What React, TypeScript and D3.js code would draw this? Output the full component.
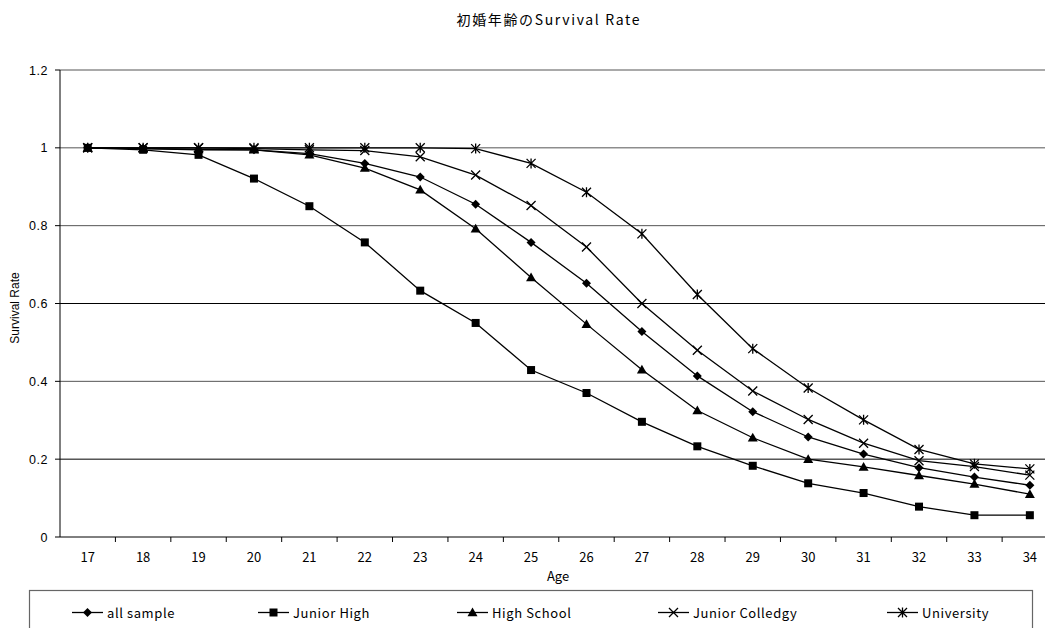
import React from "react";
import * as d3 from "d3";

const ages = [17, 18, 19, 20, 21, 22, 23, 24, 25, 26, 27, 28, 29, 30, 31, 32, 33, 34];
const allSample = [1, 0.998, 0.995, 0.995, 0.985, 0.96, 0.925, 0.855, 0.757, 0.652, 0.528, 0.414, 0.322, 0.257, 0.213, 0.178, 0.154, 0.133];
const juniorHigh = [1, 0.995, 0.982, 0.921, 0.85, 0.757, 0.633, 0.55, 0.429, 0.37, 0.296, 0.233, 0.183, 0.138, 0.113, 0.078, 0.056, 0.056];
const highSchool = [1, 0.998, 0.996, 0.995, 0.982, 0.948, 0.892, 0.792, 0.667, 0.547, 0.43, 0.325, 0.255, 0.2, 0.18, 0.158, 0.136, 0.11];
const juniorCollege = [1, 1, 1, 0.998, 0.995, 0.993, 0.977, 0.93, 0.852, 0.745, 0.6, 0.48, 0.375, 0.302, 0.241, 0.196, 0.181, 0.159];
const university = [1, 1, 1, 1, 1, 1, 1, 0.998, 0.96, 0.886, 0.779, 0.623, 0.484, 0.383, 0.301, 0.225, 0.188, 0.175];
const yTicks = [0, 0.2, 0.4, 0.6, 0.8, 1, 1.2];

const seriesNames = ["all sample", "Junior High", "High School", "Junior Colledgy", "University"];
const seriesData = [allSample, juniorHigh, highSchool, juniorCollege, university];
const markers = ["diamond", "square", "triangle", "x", "asterisk"];

const W = 1045, H = 628;
const left = 60, top = 70, bottom = 537;
const band = 55.42;
const right = left + band * ages.length;

function Marker({ type, x, y }: { type: string; x: number; y: number }) {
  if (type === "diamond") {
    const s = 4.5;
    return <path d={`M${x},${y - s}L${x + s},${y}L${x},${y + s}L${x - s},${y}Z`} fill="#000" />;
  }
  if (type === "square") {
    const s = 4;
    return <rect x={x - s} y={y - s} width={2 * s} height={2 * s} fill="#000" />;
  }
  if (type === "triangle") {
    const s = 5;
    return <path d={`M${x},${y - s}L${x + s},${y + s * 0.75}L${x - s},${y + s * 0.75}Z`} fill="#000" />;
  }
  if (type === "x") {
    const s = 4.5;
    return <path d={`M${x - s},${y - s}L${x + s},${y + s}M${x + s},${y - s}L${x - s},${y + s}`} stroke="#000" strokeWidth={1.3} />;
  }
  const s = 4.5;
  return (
    <path
      d={`M${x - s},${y - s}L${x + s},${y + s}M${x + s},${y - s}L${x - s},${y + s}M${x},${y - s - 0.5}L${x},${y + s + 0.5}`}
      stroke="#000"
      strokeWidth={1.3}
    />
  );
}

export default function App() {
  const x = d3.scaleBand<number>().domain(ages).range([left, right]);
  const y = d3.scaleLinear().domain([0, 1.2]).range([bottom, top]);
  const cx = (a: number) => (x(a) as number) + x.bandwidth() / 2;
  const line = d3
    .line<number>()
    .x((_, i) => cx(ages[i]))
    .y((d) => y(d));
  const legendX = [72, 258, 457, 658, 887];
  const legendY = 612.5;
  const tickFont = "'Noto Sans CJK JP', 'Liberation Sans', sans-serif";
  const numFont = "'Liberation Sans', Arial, sans-serif";

  return (
    <svg width={W} height={H} style={{ position: "absolute", left: 0, top: 0, background: "#fff" }}>
      <rect x={0} y={0} width={W} height={H} fill="#fff" />
      <text x={548} y={25} textAnchor="middle" fontSize={14} fontFamily={tickFont} fill="#000" textLength={183} lengthAdjust="spacing">
        初婚年齢のSurvival Rate
      </text>
      {yTicks.map((t) => (
        <g key={t}>
          {t > 0 && <line x1={left} x2={right} y1={y(t)} y2={y(t)} stroke={t === 0.6 || t === 0.2 ? "#000" : "#555"} strokeWidth={1} />}
          <line x1={left - 5} x2={left} y1={y(t)} y2={y(t)} stroke="#000" />
          <text x={48} y={y(t) + 4.5} textAnchor="end" fontSize={12.5} fontFamily={numFont} fill="#000" letterSpacing={0.5}>
            {t}
          </text>
        </g>
      ))}
      <line x1={left} x2={left} y1={top} y2={bottom} stroke="#000" />
      <line x1={left} x2={right} y1={bottom} y2={bottom} stroke="#000" />
      {ages.map((a) => (
        <g key={a}>
          <line x1={(x(a) as number) + band} x2={(x(a) as number) + band} y1={bottom} y2={bottom + 5} stroke="#000" />
          <text x={cx(a)} y={562} textAnchor="middle" fontSize={13} fontFamily={tickFont} fill="#000">
            {a}
          </text>
        </g>
      ))}
      <text x={558} y={581} textAnchor="middle" fontSize={13} fontFamily={tickFont} fill="#000">
        Age
      </text>
      <text
        transform={`translate(19,308) rotate(-90)`}
        textAnchor="middle"
        fontSize={12}
        fontFamily={numFont}
        fill="#000"
      >
        Survival Rate
      </text>
      {seriesData.map((s, k) => (
        <g key={k}>
          <path d={line(s) || ""} fill="none" stroke="#000" strokeWidth={1.3} />
          {s.map((v, i) => (
            <Marker key={i} type={markers[k]} x={cx(ages[i])} y={y(v)} />
          ))}
        </g>
      ))}
      <rect x={29.5} y={590.5} width={1003} height={60} fill="none" stroke="#666" strokeWidth={1.2} />
      {seriesNames.map((n, k) => (
        <g key={n}>
          <line x1={legendX[k]} x2={legendX[k] + 31} y1={legendY} y2={legendY} stroke="#000" strokeWidth={1.3} />
          <Marker type={markers[k]} x={legendX[k] + 15.5} y={legendY} />
          <text x={legendX[k] + 35} y={legendY + 5} fontSize={13} fontFamily={tickFont} fill="#000" letterSpacing={0.6}>
            {n}
          </text>
        </g>
      ))}
    </svg>
  );
}
